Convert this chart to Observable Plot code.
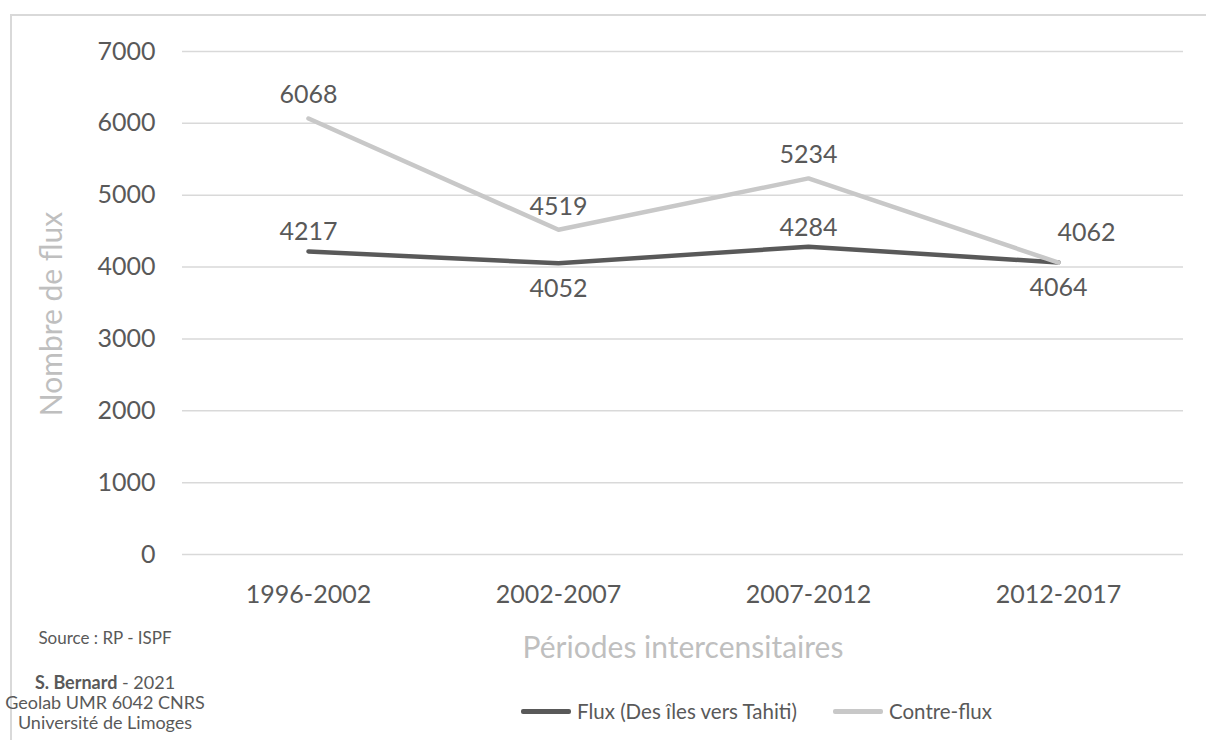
<!DOCTYPE html>
<html>
<head>
<meta charset="utf-8">
<script src="https://cdn.jsdelivr.net/npm/d3@7"></script>
<script src="https://cdn.jsdelivr.net/npm/@observablehq/plot@0.6"></script>
<style>
  html, body { margin: 0; padding: 0; background: #fff; }
  body { width: 1206px; height: 740px; overflow: hidden; position: relative; font-family: Lato, "Open Sans", sans-serif; }
  #frame { position: absolute; left: 10px; top: 14px; width: 1220px; height: 760px; border: 2px solid #d9d9d9; box-sizing: border-box; }
  #chart { position: absolute; left: 0; top: 0; }
  .src { position: absolute; left: 0; width: 210px; text-align: center; color: #595959; font-size: 17px; line-height: 20px; white-space: nowrap; }
  #ytitle { position: absolute; left: 50px; top: 314px; transform: translate(-50%, -50%) rotate(-90deg); white-space: nowrap; color: #bfbfbf; font-size: 30px; line-height: 30px; }
  #legend { position: absolute; top: 699px; left: 521px; display: flex; align-items: center; color: #595959; font-size: 20.5px; }
  .sw { display: inline-block; width: 50px; height: 5px; border-radius: 2px; margin-right: 6px; }
</style>
</head>
<body>
<div id="frame"></div>
<div id="chart"></div>
<div id="ytitle">Nombre de flux</div>
<div class="src" style="top:628px">Source : RP - ISPF</div>
<div class="src" style="top:672px; font-size:18px"><b>S. Bernard</b> - 2021<br>Geolab UMR 6042 CNRS<br>Université de Limoges</div>
<div id="legend"></div>
<script>
const periods = ["1996-2002", "2002-2007", "2007-2012", "2012-2017"];
const flux = [4217, 4052, 4284, 4064];
const contreFlux = [6068, 4519, 5234, 4062];
const seriesNames = ["Flux (Des îles vers Tahiti)", "Contre-flux"];
const yTicks = [0, 1000, 2000, 3000, 4000, 5000, 6000, 7000];
const colors = ["#595959", "#c8c8c8"];

const rows = [];
periods.forEach((p, i) => {
  rows.push({period: p, value: flux[i], series: seriesNames[0], i});
  rows.push({period: p, value: contreFlux[i], series: seriesNames[1], i});
});
const fluxRows = rows.filter(d => d.series === seriesNames[0]);
const cfRows = rows.filter(d => d.series === seriesNames[1]);

const font = "Lato, 'Open Sans', sans-serif";
const txt = {fill: "#595959", fontSize: 25, fontFamily: font};

const chart = Plot.plot({
  width: 1206,
  height: 670,
  marginLeft: 182,
  marginRight: 23,
  marginTop: 51,
  marginBottom: 116,
  style: {background: "transparent", fontFamily: font},
  x: {type: "point", domain: periods, padding: 0.5, label: null},
  y: {domain: [0, 7000], label: null},
  color: {domain: seriesNames, range: colors},
  marks: [
    Plot.gridY(yTicks, {stroke: "#d9d9d9", strokeOpacity: 1, strokeWidth: 1.5}),
    Plot.axisY(yTicks, {tickSize: 0, tickPadding: 27, fontSize: 25, fill: "#595959", label: null, tickFormat: d => String(d)}),
    Plot.axisX(periods, {tickSize: 0, tickPadding: 31, fontSize: 25, fill: "#595959", label: null}),
    Plot.text(["Périodes intercensitaires"], {frameAnchor: "bottom", dy: 103, fill: "#bfbfbf", fontSize: 30}),
    Plot.line(rows, {x: "period", y: "value", z: "series", stroke: "series", strokeWidth: 4.5, strokeLinecap: "round", strokeLinejoin: "round", sort: {channel: "stroke", order: "descending"}}),
    Plot.text(cfRows.filter(d => d.i < 3), {x: "period", y: "value", text: d => String(d.value), dy: -23, ...txt}),
    Plot.text(cfRows.filter(d => d.i === 3), {x: "period", y: "value", text: d => String(d.value), dy: -30, dx: 28, ...txt}),
    Plot.text(fluxRows.filter(d => d.i % 2 === 0), {x: "period", y: "value", text: d => String(d.value), dy: -19, ...txt}),
    Plot.text(fluxRows.filter(d => d.i % 2 === 1), {x: "period", y: "value", text: d => String(d.value), dy: 26, ...txt})
  ]
});
document.getElementById("chart").appendChild(chart);

const legend = document.getElementById("legend");
seriesNames.forEach((name, k) => {
  const item = document.createElement("span");
  item.style.display = "inline-flex";
  item.style.alignItems = "center";
  item.style.marginRight = k === 0 ? "36px" : "0";
  item.innerHTML = `<span class="sw" style="background:${colors[k]}"></span>${name}`;
  legend.appendChild(item);
});
</script>
</body>
</html>
